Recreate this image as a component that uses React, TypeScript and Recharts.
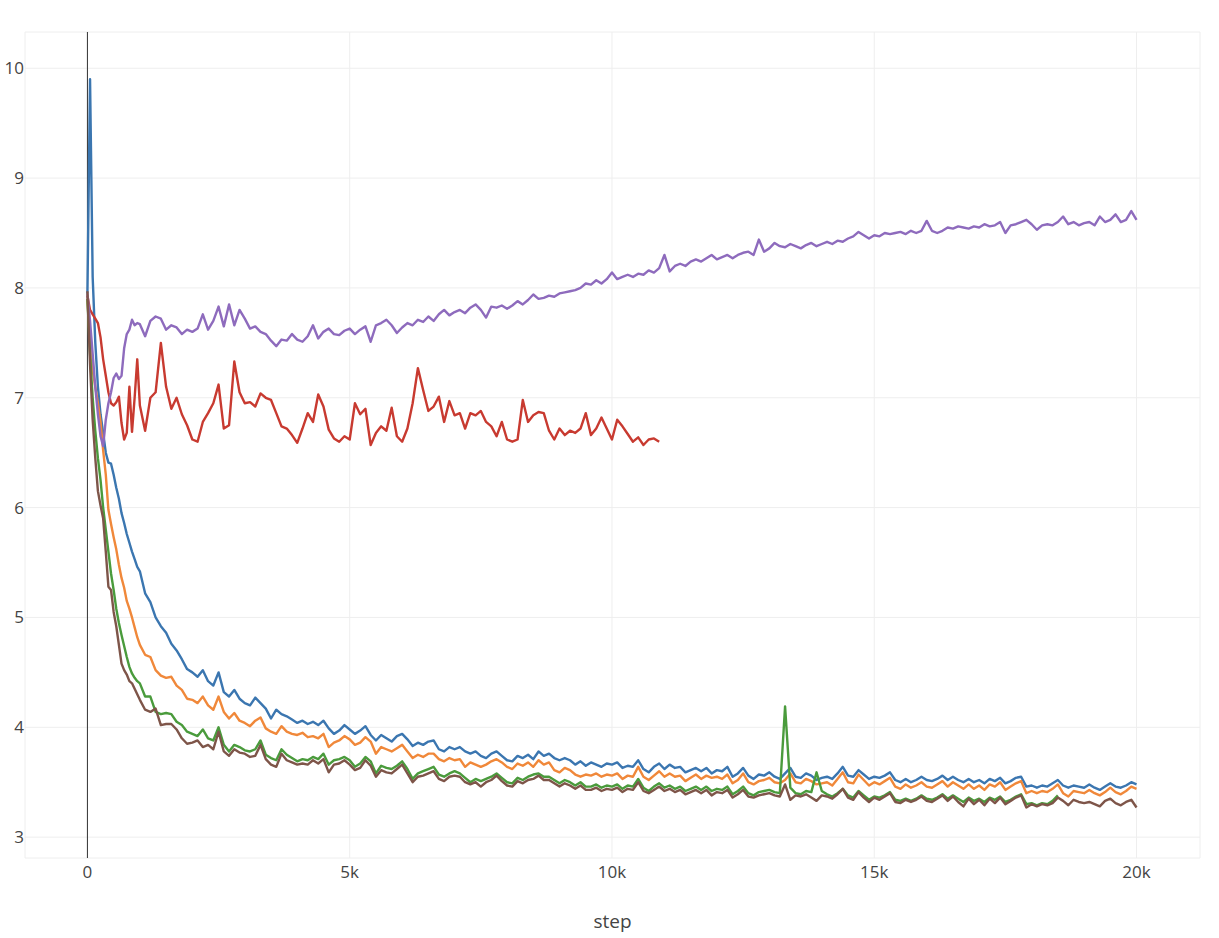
import { CartesianGrid, Label, Line, LineChart, ReferenceLine, XAxis, YAxis } from 'recharts'

// x grid: every 50 steps up to 1k, then every 100 steps to 20k
const steps = [
  ...Array.from({ length: 21 }, (_, i) => i * 50),
  ...Array.from({ length: 190 }, (_, i) => 1100 + i * 100),
]

const blue = [
  7.95, 9.9, 8.1, 7.5, 7.1, 6.85, 6.68, 6.5, 6.41, 6.4, 6.3, 6.18, 6.08, 5.95, 5.86, 5.76, 5.68, 5.6, 5.53, 5.46, 5.42,
  5.22, 5.14, 5.0, 4.92, 4.86, 4.76, 4.7, 4.62, 4.53, 4.5,
  4.46, 4.52, 4.42, 4.38, 4.5, 4.32, 4.28, 4.34, 4.26, 4.22,
  4.2, 4.27, 4.22, 4.17, 4.08, 4.16, 4.12, 4.1, 4.07, 4.04,
  4.06, 4.03, 4.05, 4.02, 4.06, 3.99, 3.94, 3.97, 4.02, 3.98,
  3.94, 3.97, 4.01, 3.93, 3.88, 3.93, 3.9, 3.87, 3.92, 3.94,
  3.89, 3.83, 3.86, 3.84, 3.87, 3.88, 3.8, 3.78, 3.82, 3.8,
  3.82, 3.78, 3.76, 3.78, 3.74, 3.72, 3.76, 3.78, 3.74, 3.7,
  3.69, 3.74, 3.72, 3.75, 3.71, 3.78, 3.74, 3.76, 3.72, 3.7,
  3.72, 3.7, 3.66, 3.69, 3.65, 3.68, 3.66, 3.64, 3.67, 3.66,
  3.68, 3.63, 3.65, 3.64, 3.7, 3.62, 3.59, 3.64, 3.67, 3.62,
  3.66, 3.63, 3.64, 3.59, 3.61, 3.63, 3.6, 3.63, 3.58, 3.61,
  3.6, 3.64, 3.55, 3.58, 3.63, 3.56, 3.53, 3.57, 3.56, 3.59,
  3.55, 3.53, 3.58, 3.63, 3.55, 3.54, 3.58, 3.56, 3.52, 3.54,
  3.55, 3.53, 3.58, 3.64, 3.56, 3.55, 3.61, 3.57, 3.53, 3.55,
  3.54, 3.56, 3.59, 3.52, 3.5, 3.53, 3.5, 3.52, 3.55, 3.52,
  3.51, 3.53, 3.56, 3.52, 3.55, 3.52, 3.5, 3.53, 3.5, 3.52,
  3.49, 3.53, 3.51, 3.54, 3.49, 3.51, 3.54, 3.55, 3.46, 3.47,
  3.45, 3.47, 3.46, 3.49, 3.52, 3.47, 3.45, 3.47, 3.46, 3.45,
  3.48, 3.45, 3.43, 3.46, 3.49, 3.46, 3.45, 3.47, 3.5, 3.48,
]

const orange = [
  7.9, 7.5, 7.25, 7.1, 6.95, 6.78, 6.52, 6.3, 5.98, 5.85, 5.73, 5.62, 5.48, 5.36, 5.27, 5.15, 5.08, 5.0, 4.91, 4.82, 4.75,
  4.66, 4.64, 4.52, 4.47, 4.45, 4.46, 4.38, 4.34, 4.26, 4.25,
  4.22, 4.28, 4.2, 4.16, 4.28, 4.14, 4.08, 4.13, 4.06, 4.04,
  4.01, 4.06, 4.09, 3.99, 3.96, 3.94, 4.01, 3.96, 3.94, 3.93,
  3.95, 3.91, 3.92, 3.9, 3.94, 3.82, 3.86, 3.88, 3.92, 3.89,
  3.84, 3.86, 3.91, 3.87, 3.76, 3.82, 3.8, 3.78, 3.81, 3.84,
  3.78, 3.72, 3.75, 3.73, 3.76, 3.76, 3.71, 3.69, 3.72, 3.7,
  3.71, 3.64, 3.68, 3.66, 3.64, 3.66, 3.69, 3.71, 3.68, 3.64,
  3.62, 3.67, 3.65, 3.68, 3.64, 3.7, 3.66, 3.68, 3.61, 3.59,
  3.63, 3.61, 3.57, 3.55, 3.57, 3.56, 3.58, 3.55, 3.57, 3.56,
  3.58, 3.53, 3.56, 3.55, 3.64, 3.55, 3.52, 3.56, 3.6, 3.55,
  3.58, 3.55, 3.56, 3.51, 3.54, 3.57, 3.53, 3.56, 3.54, 3.55,
  3.53, 3.57, 3.49, 3.52, 3.58, 3.5, 3.48, 3.51, 3.52, 3.54,
  3.5, 3.49, 3.52, 3.58, 3.5, 3.49, 3.53, 3.51, 3.48, 3.49,
  3.5, 3.47, 3.53, 3.59, 3.5, 3.49, 3.57, 3.52, 3.47, 3.5,
  3.48, 3.51, 3.54, 3.46, 3.44, 3.48, 3.45, 3.47, 3.5, 3.46,
  3.45, 3.48, 3.51, 3.46, 3.5, 3.47, 3.44, 3.48, 3.44, 3.47,
  3.43, 3.48, 3.46, 3.5, 3.43, 3.46, 3.49, 3.51, 3.4, 3.42,
  3.4, 3.42, 3.41, 3.44, 3.48, 3.4, 3.37, 3.42, 3.41, 3.4,
  3.43, 3.4, 3.38, 3.41, 3.45, 3.41, 3.39, 3.42, 3.46, 3.44,
]

// green run stops at 18.5k
const green = [
  7.9, 7.4, 7.0, 6.7, 6.45, 6.25, 6.0, 5.8, 5.6, 5.4, 5.25, 5.08, 4.95, 4.84, 4.74, 4.64, 4.55, 4.49, 4.45, 4.42, 4.4,
  4.28, 4.28, 4.14, 4.12, 4.13, 4.12, 4.05, 4.02, 3.96, 3.94,
  3.92, 3.98, 3.9, 3.88, 4.0, 3.84, 3.78, 3.84, 3.82, 3.79,
  3.78, 3.8, 3.88, 3.75, 3.72, 3.7, 3.8, 3.75, 3.72, 3.69,
  3.71, 3.7, 3.73, 3.71, 3.76, 3.66, 3.7, 3.71, 3.73, 3.7,
  3.64, 3.67, 3.73, 3.69, 3.58, 3.65, 3.63, 3.62, 3.65, 3.69,
  3.62, 3.53, 3.58, 3.6, 3.62, 3.64, 3.57, 3.55, 3.58, 3.6,
  3.58, 3.54, 3.5, 3.53, 3.51, 3.53, 3.55, 3.58, 3.54, 3.5,
  3.49, 3.54, 3.52, 3.55, 3.57, 3.58, 3.55, 3.55, 3.52, 3.49,
  3.52, 3.5, 3.47, 3.5, 3.46, 3.46, 3.48, 3.45, 3.47, 3.46,
  3.48, 3.44, 3.47, 3.46, 3.53, 3.45, 3.42, 3.46, 3.49, 3.45,
  3.47, 3.44, 3.46, 3.42, 3.44, 3.46, 3.43, 3.46, 3.42, 3.44,
  3.43, 3.46, 3.39, 3.42, 3.46, 3.4, 3.38, 3.41, 3.42, 3.43,
  3.41, 3.4, 4.19, 3.45, 3.4, 3.39, 3.42, 3.41, 3.59, 3.42,
  3.39, 3.37, 3.4, 3.44, 3.38, 3.36, 3.42, 3.38, 3.34, 3.37,
  3.36, 3.38, 3.41, 3.34, 3.33, 3.35, 3.33, 3.35, 3.38, 3.35,
  3.34, 3.36, 3.39, 3.35, 3.38, 3.35, 3.32, 3.36, 3.33, 3.35,
  3.32, 3.36, 3.34, 3.37, 3.32, 3.34, 3.37, 3.39, 3.3, 3.31,
  3.29, 3.31, 3.3, 3.33, 3.38,
]

// red run stops at 10.9k
const red = [
  7.93, 7.8, 7.76, 7.72, 7.68, 7.55, 7.35, 7.2, 7.05, 6.95, 6.93, 6.96, 7.01, 6.77, 6.62, 6.68, 7.1, 6.69, 7.0, 7.35, 6.93,
  6.7, 7.0, 7.05, 7.5, 7.1, 6.9, 7.0, 6.85, 6.75, 6.62,
  6.6, 6.78, 6.86, 6.95, 7.12, 6.72, 6.75, 7.33, 7.05, 6.95,
  6.96, 6.92, 7.04, 7.0, 6.98, 6.86, 6.74, 6.72, 6.66, 6.59,
  6.72, 6.86, 6.78, 7.03, 6.92, 6.71, 6.63, 6.6, 6.65, 6.62,
  6.95, 6.85, 6.9, 6.57, 6.68, 6.74, 6.7, 6.91, 6.65, 6.6,
  6.72, 6.95, 7.27, 7.07, 6.88, 6.92, 7.01, 6.78, 6.97, 6.84,
  6.86, 6.72, 6.86, 6.84, 6.88, 6.78, 6.74, 6.65, 6.78, 6.62,
  6.6, 6.62, 6.98, 6.78, 6.84, 6.87, 6.86, 6.7, 6.62, 6.72,
  6.66, 6.7, 6.68, 6.72, 6.86, 6.66, 6.72, 6.82, 6.72, 6.62,
  6.8, 6.74, 6.67, 6.6, 6.64, 6.57, 6.62, 6.63, 6.6,
]

const purple = [
  7.95, 7.7, 7.4, 7.1, 6.85, 6.65, 6.56, 6.8, 6.95, 7.05, 7.18, 7.22, 7.17, 7.2, 7.45, 7.58, 7.62, 7.71, 7.66, 7.68, 7.67,
  7.56, 7.7, 7.74, 7.72, 7.62, 7.66, 7.64, 7.58, 7.62, 7.6,
  7.63, 7.76, 7.62, 7.7, 7.83, 7.65, 7.85, 7.66, 7.8, 7.72,
  7.63, 7.65, 7.6, 7.58, 7.52, 7.47, 7.53, 7.52, 7.58, 7.53,
  7.51, 7.56, 7.66, 7.54, 7.6, 7.63, 7.58, 7.57, 7.61, 7.63,
  7.58, 7.62, 7.65, 7.51, 7.66, 7.68, 7.71, 7.66, 7.59, 7.64,
  7.68, 7.66, 7.71, 7.69, 7.74, 7.7, 7.76, 7.8, 7.75, 7.78,
  7.8, 7.77, 7.82, 7.85, 7.8, 7.73, 7.83, 7.82, 7.84, 7.81,
  7.84, 7.88, 7.85, 7.89, 7.94, 7.9, 7.91, 7.93, 7.92, 7.95,
  7.96, 7.97, 7.98, 8.0, 8.04, 8.03, 8.07, 8.04, 8.08, 8.14,
  8.08, 8.1, 8.12, 8.1, 8.13, 8.12, 8.16, 8.14, 8.18, 8.3,
  8.15, 8.2, 8.22, 8.2, 8.24, 8.26, 8.24, 8.27, 8.3, 8.26,
  8.28, 8.3, 8.27, 8.3, 8.32, 8.33, 8.3, 8.44, 8.33, 8.36,
  8.41, 8.38, 8.37, 8.4, 8.38, 8.36, 8.39, 8.41, 8.38, 8.4,
  8.42, 8.4, 8.43, 8.42, 8.45, 8.47, 8.51, 8.48, 8.45, 8.48,
  8.47, 8.5, 8.49, 8.5, 8.51, 8.49, 8.52, 8.5, 8.52, 8.61,
  8.52, 8.5, 8.52, 8.55, 8.54, 8.56, 8.55, 8.54, 8.56, 8.55,
  8.58, 8.56, 8.57, 8.6, 8.5, 8.57, 8.58, 8.6, 8.62, 8.58,
  8.53, 8.57, 8.58, 8.57, 8.6, 8.65, 8.58, 8.6, 8.57, 8.59,
  8.6, 8.57, 8.65, 8.6, 8.62, 8.67, 8.6, 8.62, 8.7, 8.62,
]

const brown = [
  7.97, 7.3, 6.8, 6.45, 6.15, 6.02, 5.9, 5.6, 5.28, 5.25, 5.05, 4.92, 4.75, 4.58, 4.52, 4.48, 4.42, 4.4, 4.35, 4.3, 4.25,
  4.16, 4.14, 4.17, 4.02, 4.03, 4.03, 3.98, 3.9, 3.85, 3.86,
  3.88, 3.82, 3.84, 3.8, 3.96, 3.78, 3.74, 3.8, 3.77, 3.76,
  3.73, 3.74, 3.84, 3.71, 3.66, 3.64, 3.76, 3.7, 3.68, 3.66,
  3.67, 3.66, 3.7, 3.67, 3.71, 3.59, 3.66, 3.67, 3.7, 3.66,
  3.61, 3.63, 3.7, 3.65, 3.55, 3.61, 3.59, 3.58, 3.62, 3.66,
  3.58, 3.5, 3.55, 3.56, 3.58, 3.6, 3.53, 3.51, 3.55, 3.56,
  3.55, 3.5, 3.48, 3.5, 3.46, 3.5, 3.52, 3.56, 3.51, 3.47,
  3.46, 3.51, 3.49, 3.52, 3.53, 3.56, 3.52, 3.52, 3.49, 3.46,
  3.49, 3.47, 3.44, 3.47, 3.43, 3.43, 3.45, 3.42, 3.44, 3.43,
  3.45, 3.41, 3.44, 3.43, 3.5, 3.42, 3.4, 3.43, 3.46, 3.42,
  3.44, 3.41, 3.43, 3.39, 3.41, 3.43, 3.4, 3.43, 3.38, 3.41,
  3.4, 3.43, 3.36, 3.39, 3.43, 3.37, 3.36, 3.38, 3.39, 3.4,
  3.38, 3.37, 3.48, 3.34, 3.38, 3.37, 3.39, 3.36, 3.33, 3.38,
  3.37, 3.35, 3.39, 3.44, 3.36, 3.34, 3.41, 3.36, 3.32, 3.36,
  3.34, 3.37, 3.4, 3.32, 3.31, 3.34, 3.32, 3.34, 3.37, 3.33,
  3.32, 3.35, 3.38, 3.33, 3.37, 3.32, 3.28, 3.35, 3.3, 3.34,
  3.29, 3.35, 3.31, 3.36, 3.3, 3.33, 3.36, 3.38, 3.27, 3.3,
  3.28, 3.3, 3.29, 3.31, 3.36, 3.33, 3.29, 3.34, 3.32, 3.31,
  3.32, 3.3, 3.28, 3.33, 3.35, 3.31, 3.29, 3.32, 3.34, 3.27,
]

const xTicks = [0, 5000, 10000, 15000, 20000]
const yTicks = [3, 4, 5, 6, 7, 8, 9, 10]

const series = [
  { key: 'blue', color: '#3b76b0' },
  { key: 'orange', color: '#f0883a' },
  { key: 'green', color: '#4a9b3c' },
  { key: 'red', color: '#c83a30' },
  { key: 'purple', color: '#8e6bbd' },
  { key: 'brown', color: '#7e5549' },
]

const data = steps.map((step, i) => ({
  step,
  blue: blue[i],
  orange: orange[i],
  green: green[i],
  red: red[i],
  purple: purple[i],
  brown: brown[i],
}))

const font = '"Open Sans", verdana, arial, sans-serif'
const tickStyle = { fill: '#444', fontSize: 17, fontFamily: font }

export default function App() {
  return (
    <div style={{ position: 'absolute', left: 0, top: 0, width: 1219, height: 938, background: '#fff' }}>
      <LineChart width={1219} height={938} data={data} margin={{ top: 32, right: 19, left: 0, bottom: 0 }}>
        <CartesianGrid stroke='#eee' strokeWidth={1} />
        <XAxis
          dataKey='step'
          type='number'
          domain={[-1190, 21210]}
          ticks={xTicks}
          allowDataOverflow
          height={80}
          axisLine={false}
          tickLine={false}
          tickSize={0}
          tickMargin={8}
          tick={tickStyle}
          tickFormatter={(v) => (v === 0 ? '0' : `${v / 1000}k`)}
        >
          <Label value='step' position='insideBottom' offset={10} fill='#444' fontSize={19} fontFamily={font} />
        </XAxis>
        <YAxis
          type='number'
          domain={[2.81, 10.33]}
          ticks={yTicks}
          allowDataOverflow
          width={25}
          axisLine={false}
          tickLine={false}
          tickSize={0}
          tickMargin={1}
          tick={tickStyle}
        />
        <ReferenceLine x={0} stroke='#333' strokeWidth={1} />
        {series.map((s) => (
          <Line
            key={s.key}
            dataKey={s.key}
            type='linear'
            stroke={s.color}
            strokeWidth={2.4}
            dot={false}
            activeDot={false}
            strokeLinejoin='round'
            isAnimationActive={false}
          />
        ))}
      </LineChart>
    </div>
  )
}
